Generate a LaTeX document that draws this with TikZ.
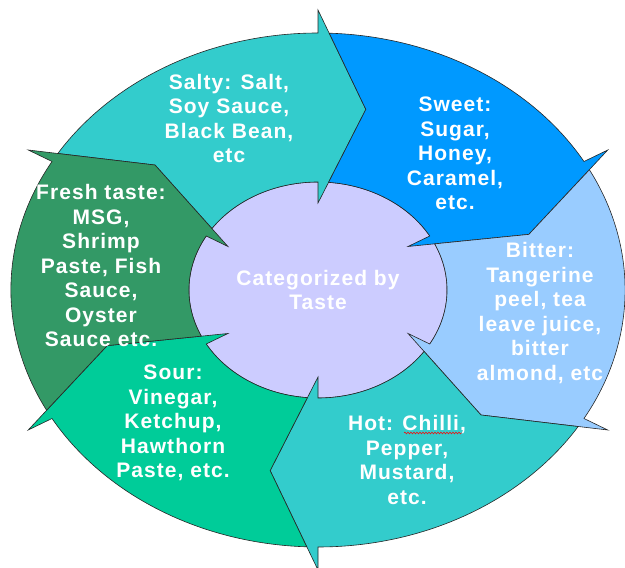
\documentclass[tikz,border=0pt]{standalone}
\usepackage{fontspec}
\setmainfont{Liberation Sans}
\newfontfamily\tastefont{Liberation Sans}[LetterSpace=5]
\usetikzlibrary{decorations.pathmorphing}
\definecolor{SaltyClr}{HTML}{33CCCC}
\definecolor{SweetClr}{HTML}{0099FF}
\definecolor{BitterClr}{HTML}{99CCFF}
\definecolor{HotClr}{HTML}{33CCCC}
\definecolor{SourClr}{HTML}{00CC99}
\definecolor{FreshClr}{HTML}{339966}
\definecolor{CenterClr}{HTML}{CCCCFF}

\begin{document}
\begin{tikzpicture}[x=1pt,y=1pt,
  ring/.style={draw=black!85,line width=0.6pt,line join=miter},
  tastelabel/.style={text=white,align=center,font=\tastefont\fontsize{21}{24.5}\selectfont\bfseries}]
\useasboundingbox (0,0) rectangle (625,568);

\begin{scope}[shift={(318,278)},xscale=1.195]
\filldraw[ring,fill=CenterClr] (0,0) circle[radius=108];
\foreach \s/\clr in {150/SaltyClr,90/SweetClr,30/BitterClr,-30/HotClr,-90/SourClr,-150/FreshClr}{
  \pgfmathsetmacro\base{\s-60}
  \filldraw[ring,fill=\clr] (\s-2.1:257) arc[start angle=\s-2.1,end angle=\base,radius=257]
    -- (\base:280) -- (\base-12.5:185) -- (\base:87) -- (\base:108)
    arc[start angle=\base,end angle=\s-4.7,radius=108]
    -- (\s-12.5:185) -- cycle;
}
\end{scope}

\node[tastelabel] (salty) at (229,449.5) {Salty: Salt,\\Soy Sauce,\\Black Bean,\\etc};
\node[tastelabel] (sweet) at (455,414.5) {Sweet:\\Sugar,\\Honey,\\Caramel,\\etc.};
\node[tastelabel] (bitter) at (540,255) {Bitter:\\Tangerine\\peel, tea\\leave juice,\\bitter\\almond, etc};
\node[tastelabel] (hot) at (407,108) {Hot: Chilli,\\Pepper,\\Mustard,\\etc.};
\node[tastelabel] (sour) at (173,145) {Sour:\\Vinegar,\\Ketchup,\\Hawthorn\\Paste, etc.};
\node[tastelabel] (fresh) at (101,302.5) {Fresh taste:\\MSG,\\Shrimp\\Paste, Fish\\Sauce,\\Oyster\\Sauce etc.};
\node[tastelabel] (center) at (318,278) {Categorized by\\Taste};

\draw[red,line width=0.5pt,decorate,decoration={snake,amplitude=0.9pt,segment length=3pt}]
  (404,135) -- (462,135);
\end{tikzpicture}
\end{document}
